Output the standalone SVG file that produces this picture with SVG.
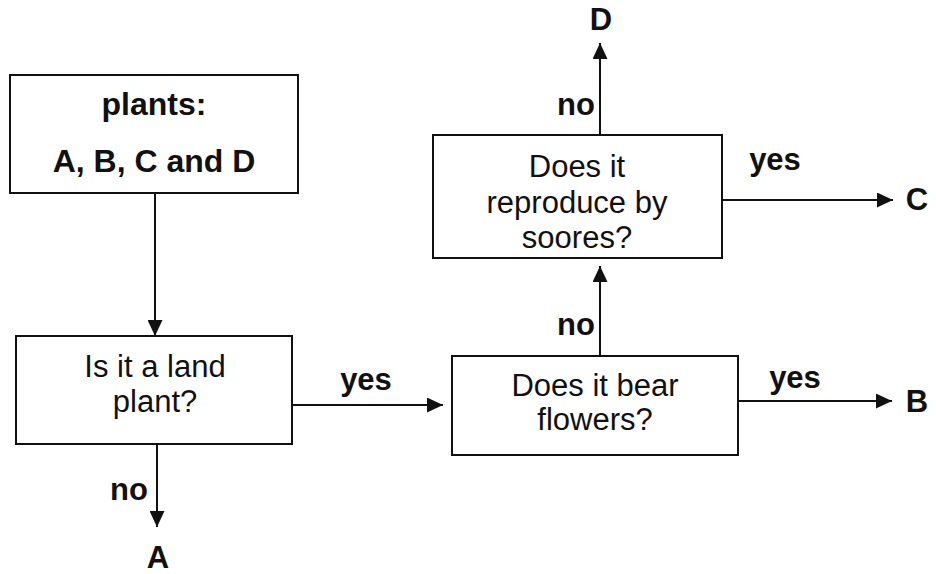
<svg xmlns="http://www.w3.org/2000/svg" width="936" height="574" viewBox="0 0 936 574">
<defs>
<marker id="ah" viewBox="0 0 10 10" refX="10" refY="5" markerWidth="16" markerHeight="15" markerUnits="userSpaceOnUse" orient="auto" preserveAspectRatio="none">
<path d="M0,0 L10,5 L0,10 Z" fill="#111"/>
</marker>
<style>
.box{fill:#fff;stroke:#111;stroke-width:2}
.t{font-family:"Liberation Sans",Arial,sans-serif;font-size:31px;fill:#111;text-anchor:middle}
.b{font-weight:bold}
.c{stroke:#111;stroke-width:2;fill:none;marker-end:url(#ah)}
</style>
</defs>
<rect width="936" height="574" fill="#fff"/>
<g id="connectors">
<path class="c" d="M155,193 V336"/>
<path class="c" d="M157,444 V527"/>
<path class="c" d="M292,405 H443"/>
<path class="c" d="M738,401 H892"/>
<path class="c" d="M600,356 V266"/>
<path class="c" d="M600,135 V43"/>
<path class="c" d="M722,200 H893"/>
<text class="t b" x="366" y="390">yes</text>
<text class="t b" x="129" y="500">no</text>
<text class="t b" x="795" y="388">yes</text>
<text class="t b" x="576" y="335">no</text>
<text class="t b" x="775" y="170">yes</text>
<text class="t b" x="576" y="115">no</text>
</g>
<g id="n_plants">
<rect class="box" x="10" y="75" width="288" height="118"/>
<text class="t b" x="154" y="115" style="font-size:32px">plants:</text>
<text class="t b" x="154" y="172" style="font-size:32px">A, B, C and D</text>
</g>
<g id="n_land">
<rect class="box" x="16" y="336" width="276" height="108"/>
<text class="t" x="155" y="377">Is it a land</text>
<text class="t" x="155" y="412">plant?</text>
</g>
<g id="n_flowers">
<rect class="box" x="452" y="356" width="286" height="99"/>
<text class="t" x="595" y="396">Does it bear</text>
<text class="t" x="595" y="430">flowers?</text>
</g>
<g id="n_spores">
<rect class="box" x="433" y="135" width="289" height="123"/>
<text class="t" x="577" y="177">Does it</text>
<text class="t" x="577" y="213">reproduce by</text>
<text class="t" x="577" y="248">soores?</text>
</g>
<g id="n_A"><text class="t b" x="158" y="568">A</text></g>
<g id="n_B"><text class="t b" x="917" y="412">B</text></g>
<g id="n_C"><text class="t b" x="917" y="210">C</text></g>
<g id="n_D"><text class="t b" x="601" y="30">D</text></g>
</svg>
